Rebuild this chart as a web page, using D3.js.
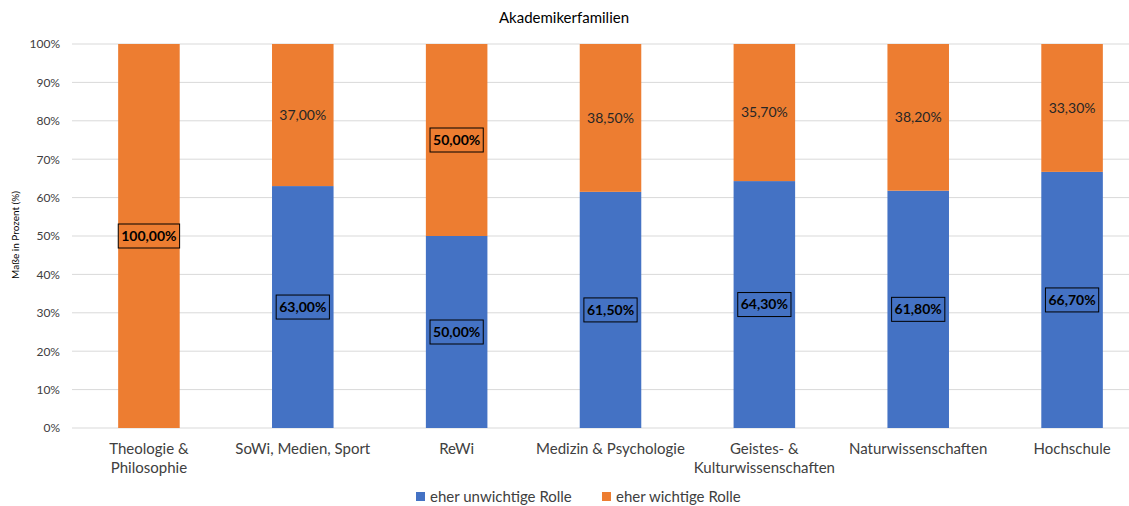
<!DOCTYPE html>
<html>
<head>
<meta charset="utf-8">
<script src="https://cdn.jsdelivr.net/npm/d3@7"></script>
<style>
  body { margin: 0; background: #fff; }
  text { font-family: Lato, "Open Sans", sans-serif; fill: #404040; }
</style>
</head>
<body>
<div id="chart"></div>
<script>
// data
var categories = ["Theologie & Philosophie", "SoWi, Medien, Sport", "ReWi", "Medizin & Psychologie",
  "Geistes- & Kulturwissenschaften", "Naturwissenschaften", "Hochschule"];
var categoryLines = [["Theologie &", "Philosophie"], ["SoWi, Medien, Sport"], ["ReWi"], ["Medizin & Psychologie"],
  ["Geistes- &", "Kulturwissenschaften"], ["Naturwissenschaften"], ["Hochschule"]];
var unwichtig = [0, 63.0, 50.0, 61.5, 64.3, 61.8, 66.7];
var wichtig = [100.0, 37.0, 50.0, 38.5, 35.7, 38.2, 33.3];
var wichtigBoxed = [true, false, true, false, false, false, false];
var seriesNames = ["eher unwichtige Rolle", "eher wichtige Rolle"];
var yTicks = [0, 10, 20, 30, 40, 50, 60, 70, 80, 90, 100];

var width = 1129, height = 506;
var blue = "#4472C4", orange = "#ED7D31";

var svg = d3.select("#chart").append("svg")
  .attr("width", width)
  .attr("height", height);

var x = d3.scaleBand()
  .domain(categories)
  .range([72, 1149])
  .paddingInner(0.6)
  .paddingOuter(0.3);

var y = d3.scaleLinear()
  .domain([0, 100])
  .range([428, 44]);

function fmt(v) { return v.toFixed(2).replace(".", ",") + "%"; }

// title
svg.append("text")
  .attr("x", 564).attr("y", 23)
  .attr("text-anchor", "middle")
  .style("font-size", "15px")
  .style("fill", "#000")
  .text("Akademikerfamilien");

// grid
svg.append("g").selectAll("line")
  .data(yTicks)
  .enter().append("line")
  .attr("x1", 72).attr("x2", width)
  .attr("y1", function(d) { return y(d); })
  .attr("y2", function(d) { return y(d); })
  .style("stroke", "#d9d9d9")
  .style("stroke-width", 1);

// y axis labels
var yAxis = svg.append("g")
  .attr("transform", "translate(66,0)")
  .call(d3.axisLeft(y).tickValues(yTicks).tickSize(0).tickPadding(6).tickFormat(function(d) { return d + "%"; }));
yAxis.select(".domain").remove();
yAxis.selectAll("text").style("font-size", "12px").style("font-family", "Lato, sans-serif").style("fill", "#404040");

svg.append("text")
  .attr("transform", "translate(19,235) rotate(-90)")
  .attr("text-anchor", "middle")
  .style("font-size", "10px")
  .style("fill", "#000")
  .text("Maße in Prozent (%)");

// bars
var rows = categories.map(function(c, i) {
  return { cat: c, u: unwichtig[i], w: wichtig[i], boxed: wichtigBoxed[i] };
});

var bars = svg.append("g");
bars.selectAll("rect.u")
  .data(rows.filter(function(d) { return d.u > 0; }))
  .enter().append("rect")
  .attr("x", function(d) { return x(d.cat); })
  .attr("width", x.bandwidth())
  .attr("y", function(d) { return y(d.u); })
  .attr("height", function(d) { return y(0) - y(d.u); })
  .style("fill", blue);

bars.selectAll("rect.w")
  .data(rows)
  .enter().append("rect")
  .attr("x", function(d) { return x(d.cat); })
  .attr("width", x.bandwidth())
  .attr("y", function(d) { return y(d.u + d.w); })
  .attr("height", function(d) { return y(d.u) - y(d.u + d.w); })
  .style("fill", orange);

// labels
function addLabel(cx, cy, txt, boxed) {
  var g = svg.append("g");
  var t = g.append("text")
    .attr("x", cx).attr("y", cy)
    .attr("text-anchor", "middle")
    .attr("dy", "0.35em")
    .style("font-size", "14px")
    .style("font-weight", boxed ? "bold" : "normal")
    .style("fill", boxed ? "#000" : "#262626")
    .text(txt);
  if (boxed) {
    var bb = t.node().getBBox();
    g.insert("rect", "text")
      .attr("x", bb.x - 3).attr("y", cy - 12)
      .attr("width", bb.width + 6).attr("height", 24)
      .style("fill", "none")
      .style("stroke", "#000")
      .style("stroke-width", 1);
  }
}

rows.forEach(function(d) {
  var cx = x(d.cat) + x.bandwidth() / 2;
  if (d.u > 0) addLabel(cx, y(d.u / 2), fmt(d.u), true);
  addLabel(cx, y(d.u + d.w / 2), fmt(d.w), d.boxed);
});

// x labels
categories.forEach(function(c, i) {
  var t = svg.append("text")
    .attr("x", x(c) + x.bandwidth() / 2)
    .attr("y", 454)
    .attr("text-anchor", "middle")
    .style("font-size", "15px");
  categoryLines[i].forEach(function(line, j) {
    t.append("tspan")
      .attr("x", x(c) + x.bandwidth() / 2)
      .attr("dy", j === 0 ? 0 : 19)
      .text(line);
  });
});

// legend
var legendX = [416, 602];
seriesNames.forEach(function(name, i) {
  svg.append("rect")
    .attr("x", legendX[i]).attr("y", 492)
    .attr("width", 9).attr("height", 9)
    .style("fill", i === 0 ? blue : orange);
  svg.append("text")
    .attr("x", legendX[i] + 14).attr("y", 502)
    .style("font-size", "15px")
    .text(name);
});
</script>
</body>
</html>
